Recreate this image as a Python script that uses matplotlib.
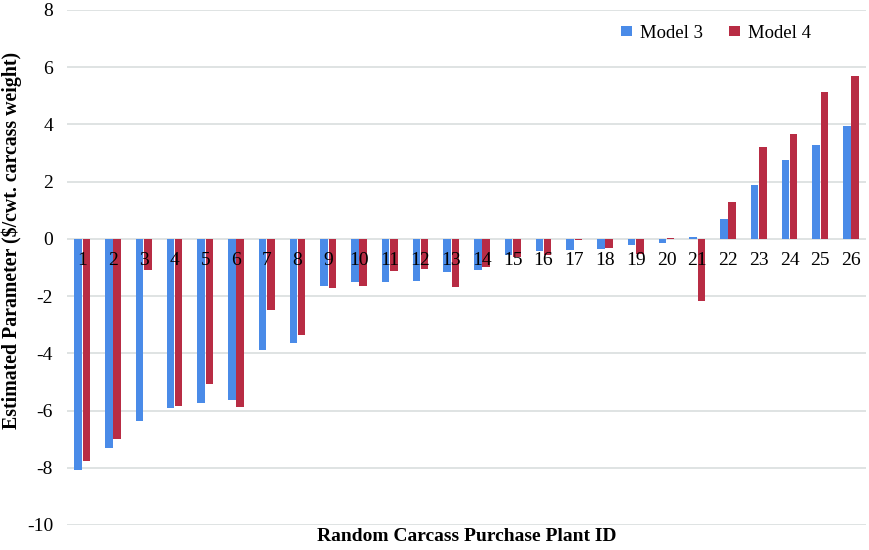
import numpy as np
import matplotlib.pyplot as plt

plants = [str(i) for i in range(1, 27)]
model3 = [-8.09, -7.30, -6.37, -5.91, -5.73, -5.64, -3.88, -3.65, -1.65, -1.51,
          -1.50, -1.47, -1.17, -1.10, -0.58, -0.44, -0.40, -0.36, -0.23, -0.14,
          0.07, 0.71, 1.88, 2.75, 3.27, 3.95]
model4 = [-7.78, -6.99, -1.09, -5.84, -5.09, -5.89, -2.49, -3.36, -1.72, -1.64,
          -1.12, -1.04, -1.70, -0.99, -0.63, -0.58, -0.04, -0.31, -0.52, 0.02,
          -2.18, 1.29, 3.20, 3.66, 5.12, 5.68]

plt.rcParams['font.family'] = ['Liberation Serif', 'DejaVu Serif']
plt.rcParams['axes.unicode_minus'] = False

fig = plt.figure(figsize=(8.69, 5.5), dpi=100)
ax = fig.add_axes([0.077, 0.0455, 0.92, 0.9365])

x = np.arange(len(plants))
w = 0.24
ax.bar(x - 0.135, model3, width=w, color='#4A8BE8', label='Model 3', zorder=2)
ax.bar(x + 0.135, model4, width=w, color='#B82C44', label='Model 4', zorder=2)

for xi, lab in zip(x, plants):
    ax.text(xi, -0.45, lab, ha='center', va='top', fontsize=14, zorder=3)

ax.set_xlim(-0.5, len(plants) - 0.5)
ax.set_ylim(-10, 8)
ax.set_yticks(np.arange(-10, 9, 2))
ax.set_xticks([])
ax.tick_params(axis='y', length=0, labelsize=14, pad=10)
ax.yaxis.grid(True, color='#D9DEDE', linewidth=1.2, zorder=0)
ax.set_axisbelow(True)
for s in ax.spines.values():
    s.set_visible(False)

ax.set_ylabel('Estimated Parameter ($/cwt. carcass weight)', fontsize=14.3,
              fontweight='bold')
ax.yaxis.set_label_coords(-0.056, 0.553)
ax.set_xlabel('Random Carcass Purchase Plant ID', fontsize=14,
              fontweight='bold', labelpad=2)

ax.legend(loc='center', bbox_to_anchor=(0.812, 0.955), ncol=2, frameon=False,
          fontsize=13.5, handlelength=0.6, handleheight=0.4, handletextpad=0.4,
          columnspacing=1.4)

plt.savefig('out.png', dpi=100)
